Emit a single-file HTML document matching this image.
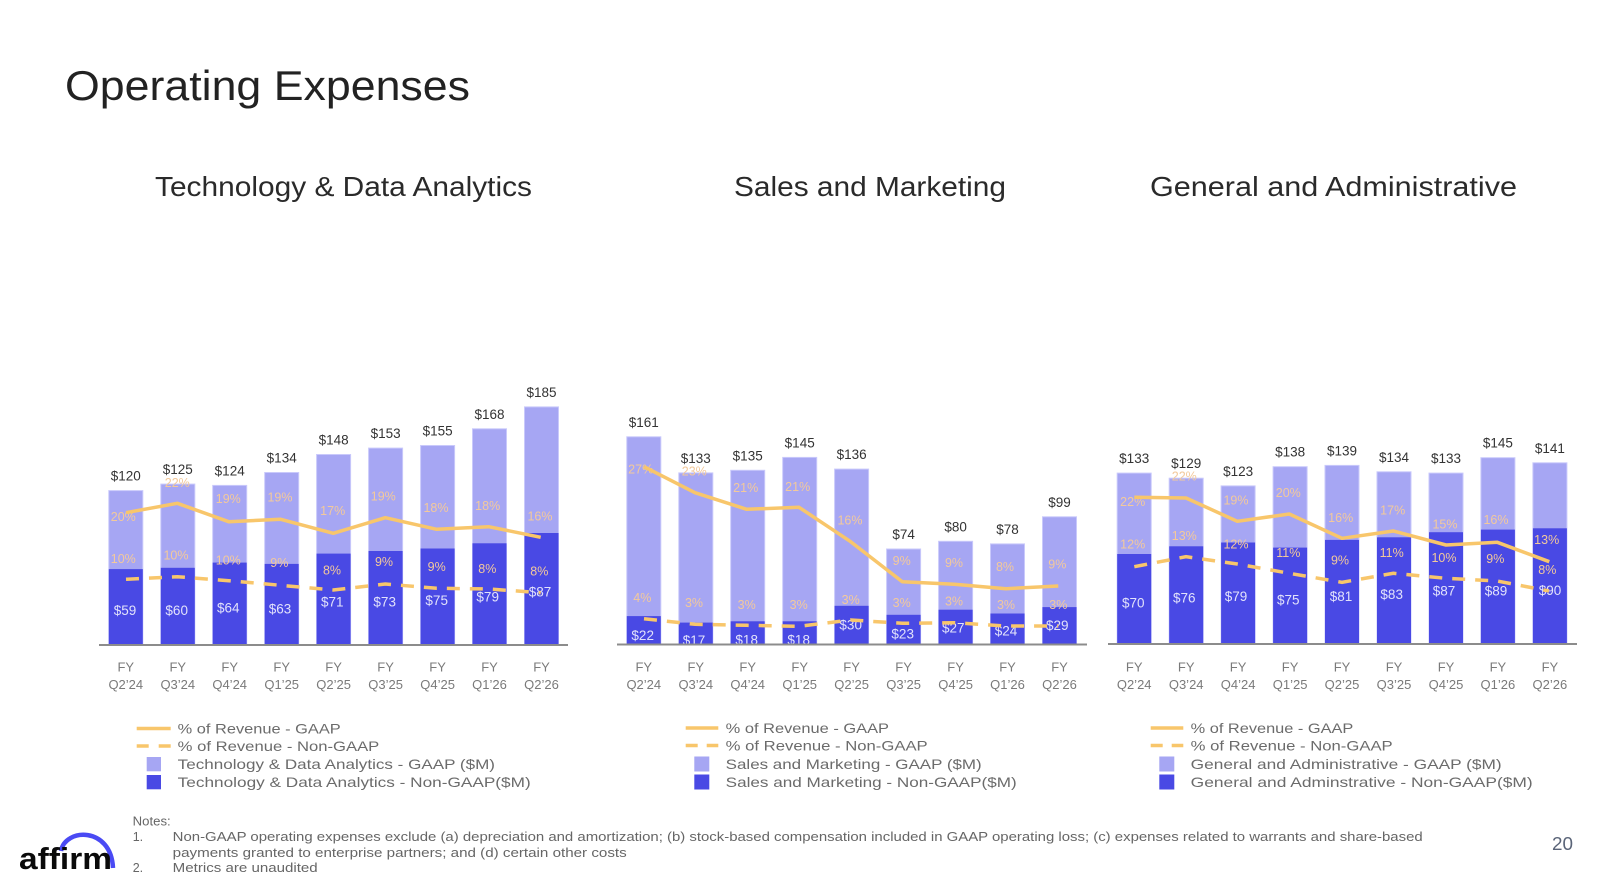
<!DOCTYPE html>
<html><head><meta charset="utf-8"><style>
html,body{margin:0;padding:0;background:#fff;}
svg{display:block;}
text{font-family:"Liberation Sans",sans-serif;}
</style></head><body>
<svg width="1600" height="881" viewBox="0 0 1600 881" xmlns="http://www.w3.org/2000/svg">
<defs>
<clipPath id="c1"><rect x="0" y="0" width="1600" height="644"/></clipPath>
<clipPath id="c2"><rect x="0" y="0" width="1600" height="643.5"/></clipPath>
<clipPath id="c3"><rect x="0" y="0" width="1600" height="643"/></clipPath>
</defs>
<rect width="1600" height="881" fill="#fff"/>

<!-- Titles -->
<text x="65" y="100" font-size="42" fill="#222" textLength="405" lengthAdjust="spacingAndGlyphs">Operating Expenses</text>
<text x="155" y="196" font-size="28" fill="#2a2a2a" textLength="377" lengthAdjust="spacingAndGlyphs">Technology &amp; Data Analytics</text>
<text x="734" y="196" font-size="28" fill="#2a2a2a" textLength="272" lengthAdjust="spacingAndGlyphs">Sales and Marketing</text>
<text x="1150" y="196" font-size="28" fill="#2a2a2a" textLength="367" lengthAdjust="spacingAndGlyphs">General and Administrative</text>

<!-- ===== Chart 1 ===== -->
<g stroke="#c9c9fb" stroke-width="1" fill="#a6a6f3">
<rect x="108.8" y="490.6" width="34" height="154.4"/>
<rect x="160.8" y="484.1" width="34" height="160.9"/>
<rect x="212.7" y="485.4" width="34" height="159.6"/>
<rect x="264.7" y="472.5" width="34" height="172.5"/>
<rect x="316.6" y="454.5" width="34" height="190.5"/>
<rect x="368.6" y="448.1" width="34" height="196.9"/>
<rect x="420.6" y="445.5" width="34" height="199.5"/>
<rect x="472.5" y="428.8" width="34" height="216.2"/>
<rect x="524.5" y="406.9" width="34" height="238.1"/>
</g>
<g fill="#4949e4">
<rect x="108.8" y="569.1" width="34" height="75.9"/>
<rect x="160.8" y="567.8" width="34" height="77.2"/>
<rect x="212.7" y="562.6" width="34" height="82.4"/>
<rect x="264.7" y="563.9" width="34" height="81.1"/>
<rect x="316.6" y="553.6" width="34" height="91.4"/>
<rect x="368.6" y="551.0" width="34" height="94.0"/>
<rect x="420.6" y="548.5" width="34" height="96.5"/>
<rect x="472.5" y="543.3" width="34" height="101.7"/>
<rect x="524.5" y="533.0" width="34" height="112.0"/>
</g>
<line x1="99" y1="645" x2="568" y2="645" stroke="#8c8c8c" stroke-width="2"/>
<g font-size="13.5" fill="#333" text-anchor="middle">
<text x="125.8" y="480.6">$120</text>
<text x="177.8" y="474.1">$125</text>
<text x="229.7" y="475.4">$124</text>
<text x="281.7" y="462.5">$134</text>
<text x="333.6" y="444.5">$148</text>
<text x="385.6" y="438.1">$153</text>
<text x="437.6" y="435.5">$155</text>
<text x="489.5" y="418.8">$168</text>
<text x="541.5" y="396.9">$185</text>
</g>
<g font-size="13.5" fill="#e2e2fb" text-anchor="middle" clip-path="url(#c1)">
<text x="125" y="615">$59</text>
<text x="176.7" y="615">$60</text>
<text x="228.3" y="612.3">$64</text>
<text x="280" y="613.3">$63</text>
<text x="332.3" y="606.7">$71</text>
<text x="384.7" y="606.7">$73</text>
<text x="436.7" y="605">$75</text>
<text x="487.7" y="601.7">$79</text>
<text x="540" y="596.7">$87</text>
</g>
<g font-size="12.5" fill="#f3c99b" text-anchor="middle">
<text x="123.3" y="521.2">20%</text>
<text x="177.3" y="487.2">22%</text>
<text x="228.3" y="502.8">19%</text>
<text x="280" y="501.5">19%</text>
<text x="332.7" y="515.2">17%</text>
<text x="383.3" y="500.5">19%</text>
<text x="436" y="511.8">18%</text>
<text x="487.7" y="509.8">18%</text>
<text x="540" y="520.5">16%</text>
<text x="123.3" y="562.8">10%</text>
<text x="176" y="559.5">10%</text>
<text x="228.3" y="564.5">10%</text>
<text x="279.3" y="567.2">9%</text>
<text x="332" y="574.5">8%</text>
<text x="384" y="566.2">9%</text>
<text x="436.7" y="571.2">9%</text>
<text x="487.3" y="572.8">8%</text>
<text x="539.3" y="575.5">8%</text>
</g>
<polyline fill="none" stroke="#f8c66b" stroke-width="3.5" stroke-linejoin="round" points="126,512.7 177.3,503.3 228.7,521.7 280.7,519.3 333.3,533.3 385.3,517.7 436.7,529.3 488.7,526.7 540.7,537.3"/>
<polyline fill="none" stroke="#f8c66b" stroke-width="3.5" stroke-dasharray="13 10" points="126,579.3 177.3,576.7 228.7,580.7 280.7,585.3 333.3,590 385.3,584 436.7,588.3 488.7,589 540.7,592.7"/>
<g font-size="13" fill="#7a7a7a" text-anchor="middle">
<text x="125.8" y="671.5">FY</text><text x="125.8" y="689">Q2’24</text>
<text x="177.8" y="671.5">FY</text><text x="177.8" y="689">Q3’24</text>
<text x="229.7" y="671.5">FY</text><text x="229.7" y="689">Q4’24</text>
<text x="281.7" y="671.5">FY</text><text x="281.7" y="689">Q1’25</text>
<text x="333.6" y="671.5">FY</text><text x="333.6" y="689">Q2’25</text>
<text x="385.6" y="671.5">FY</text><text x="385.6" y="689">Q3’25</text>
<text x="437.6" y="671.5">FY</text><text x="437.6" y="689">Q4’25</text>
<text x="489.5" y="671.5">FY</text><text x="489.5" y="689">Q1’26</text>
<text x="541.5" y="671.5">FY</text><text x="541.5" y="689">Q2’26</text>
</g>
<!-- legend 1 -->
<line x1="136.7" y1="728.5" x2="170.7" y2="728.5" stroke="#f8c66b" stroke-width="3.5"/>
<line x1="136.7" y1="746" x2="170.7" y2="746" stroke="#f8c66b" stroke-width="3.5" stroke-dasharray="12 10"/>
<rect x="146.7" y="757" width="14.3" height="14.3" fill="#a6a6f3"/>
<rect x="146.7" y="775" width="14.3" height="14.3" fill="#4949e4"/>
<g font-size="14" fill="#6b6b6b">
<text x="177.7" y="733.5" textLength="163" lengthAdjust="spacingAndGlyphs">% of Revenue - GAAP</text>
<text x="177.7" y="751" textLength="201.6" lengthAdjust="spacingAndGlyphs">% of Revenue - Non-GAAP</text>
<text x="177.7" y="769" textLength="317.3" lengthAdjust="spacingAndGlyphs">Technology &amp; Data Analytics - GAAP ($M)</text>
<text x="177.7" y="787" textLength="353" lengthAdjust="spacingAndGlyphs">Technology &amp; Data Analytics - Non-GAAP($M)</text>
</g>

<!-- ===== Chart 2 ===== -->
<g stroke="#c9c9fb" stroke-width="1" fill="#a6a6f3">
<rect x="626.8" y="436.8" width="34" height="207.7"/>
<rect x="678.8" y="472.9" width="34" height="171.6"/>
<rect x="730.7" y="470.3" width="34" height="174.2"/>
<rect x="782.7" y="457.4" width="34" height="187.1"/>
<rect x="834.6" y="469.1" width="34" height="175.4"/>
<rect x="886.6" y="549.0" width="34" height="95.5"/>
<rect x="938.6" y="541.3" width="34" height="103.2"/>
<rect x="990.5" y="543.9" width="34" height="100.6"/>
<rect x="1042.5" y="516.8" width="34" height="127.7"/>
</g>
<g fill="#4949e4">
<rect x="626.8" y="616.1" width="34" height="28.4"/>
<rect x="678.8" y="622.6" width="34" height="21.9"/>
<rect x="730.7" y="621.3" width="34" height="23.2"/>
<rect x="782.7" y="621.3" width="34" height="23.2"/>
<rect x="834.6" y="605.8" width="34" height="38.7"/>
<rect x="886.6" y="614.8" width="34" height="29.7"/>
<rect x="938.6" y="609.7" width="34" height="34.8"/>
<rect x="990.5" y="613.5" width="34" height="31.0"/>
<rect x="1042.5" y="607.1" width="34" height="37.4"/>
</g>
<line x1="617" y1="644.5" x2="1087" y2="644.5" stroke="#8c8c8c" stroke-width="2"/>
<g font-size="13.5" fill="#333" text-anchor="middle">
<text x="643.8" y="426.8">$161</text>
<text x="695.8" y="462.9">$133</text>
<text x="747.7" y="460.3">$135</text>
<text x="799.7" y="447.4">$145</text>
<text x="851.6" y="459.1">$136</text>
<text x="903.6" y="539.0">$74</text>
<text x="955.6" y="531.3">$80</text>
<text x="1007.5" y="533.9">$78</text>
<text x="1059.5" y="506.8">$99</text>
</g>
<g font-size="13.5" fill="#e2e2fb" text-anchor="middle" clip-path="url(#c2)">
<text x="642.7" y="640">$22</text>
<text x="694" y="645">$17</text>
<text x="746.7" y="644.3">$18</text>
<text x="798.7" y="644.3">$18</text>
<text x="850.7" y="629.3">$30</text>
<text x="902.7" y="638.3">$23</text>
<text x="953.3" y="632.7">$27</text>
<text x="1006" y="635.7">$24</text>
<text x="1057.3" y="630">$29</text>
</g>
<g font-size="12.5" fill="#f3c99b" text-anchor="middle">
<text x="640.7" y="473.5">27%</text>
<text x="694.3" y="475.5">23%</text>
<text x="745.7" y="492.2">21%</text>
<text x="797.7" y="491.2">21%</text>
<text x="850" y="524.5">16%</text>
<text x="901.7" y="565.2">9%</text>
<text x="954" y="567.2">9%</text>
<text x="1005" y="571.2">8%</text>
<text x="1057.3" y="568.5">9%</text>
<text x="642.3" y="602.2">4%</text>
<text x="694" y="607.2">3%</text>
<text x="746.7" y="608.8">3%</text>
<text x="798.7" y="608.8">3%</text>
<text x="850.7" y="603.8">3%</text>
<text x="901.7" y="607.2">3%</text>
<text x="954" y="605.5">3%</text>
<text x="1006" y="608.8">3%</text>
<text x="1058.3" y="608.8">3%</text>
</g>
<polyline fill="none" stroke="#f8c66b" stroke-width="3.5" stroke-linejoin="round" points="644,466.7 695,492.7 746.7,509.3 799,507.3 850.7,541.7 902.3,581.7 954.3,584.3 1006,588.7 1058.3,586"/>
<polyline fill="none" stroke="#f8c66b" stroke-width="3.5" stroke-dasharray="13 10" points="644,618.7 695,624.3 746.7,625.3 799,626.3 850.7,620 902.3,623.3 954.3,622.7 1006,626 1058.3,626"/>
<g font-size="13" fill="#7a7a7a" text-anchor="middle">
<text x="643.8" y="671.5">FY</text><text x="643.8" y="689">Q2’24</text>
<text x="695.8" y="671.5">FY</text><text x="695.8" y="689">Q3’24</text>
<text x="747.7" y="671.5">FY</text><text x="747.7" y="689">Q4’24</text>
<text x="799.7" y="671.5">FY</text><text x="799.7" y="689">Q1’25</text>
<text x="851.6" y="671.5">FY</text><text x="851.6" y="689">Q2’25</text>
<text x="903.6" y="671.5">FY</text><text x="903.6" y="689">Q3’25</text>
<text x="955.6" y="671.5">FY</text><text x="955.6" y="689">Q4’25</text>
<text x="1007.5" y="671.5">FY</text><text x="1007.5" y="689">Q1’26</text>
<text x="1059.5" y="671.5">FY</text><text x="1059.5" y="689">Q2’26</text>
</g>
<!-- legend 2 -->
<line x1="685.7" y1="728" x2="718.3" y2="728" stroke="#f8c66b" stroke-width="3.5"/>
<line x1="685.7" y1="745.5" x2="718.3" y2="745.5" stroke="#f8c66b" stroke-width="3.5" stroke-dasharray="12 9"/>
<rect x="694.3" y="756.5" width="15" height="15" fill="#a6a6f3"/>
<rect x="694.3" y="774.5" width="15" height="15" fill="#4949e4"/>
<g font-size="14" fill="#6b6b6b">
<text x="725.7" y="733" textLength="163.3" lengthAdjust="spacingAndGlyphs">% of Revenue - GAAP</text>
<text x="725.7" y="750.5" textLength="202" lengthAdjust="spacingAndGlyphs">% of Revenue - Non-GAAP</text>
<text x="725.7" y="769" textLength="256" lengthAdjust="spacingAndGlyphs">Sales and Marketing - GAAP ($M)</text>
<text x="725.7" y="787" textLength="291" lengthAdjust="spacingAndGlyphs">Sales and Marketing - Non-GAAP($M)</text>
</g>

<!-- ===== Chart 3 ===== -->
<g stroke="#c9c9fb" stroke-width="1" fill="#a6a6f3">
<rect x="1117.2" y="473.1" width="34" height="170.9"/>
<rect x="1169.2" y="478.2" width="34" height="165.8"/>
<rect x="1221.1" y="485.9" width="34" height="158.1"/>
<rect x="1273.1" y="466.7" width="34" height="177.3"/>
<rect x="1325.0" y="465.4" width="34" height="178.6"/>
<rect x="1377.0" y="471.8" width="34" height="172.2"/>
<rect x="1429.0" y="473.1" width="34" height="170.9"/>
<rect x="1480.9" y="457.7" width="34" height="186.3"/>
<rect x="1532.9" y="462.8" width="34" height="181.2"/>
</g>
<g fill="#4949e4">
<rect x="1117.2" y="554.0" width="34" height="90.0"/>
<rect x="1169.2" y="546.3" width="34" height="97.7"/>
<rect x="1221.1" y="542.5" width="34" height="101.5"/>
<rect x="1273.1" y="547.6" width="34" height="96.4"/>
<rect x="1325.0" y="539.9" width="34" height="104.1"/>
<rect x="1377.0" y="537.3" width="34" height="106.7"/>
<rect x="1429.0" y="532.2" width="34" height="111.8"/>
<rect x="1480.9" y="529.6" width="34" height="114.4"/>
<rect x="1532.9" y="528.3" width="34" height="115.7"/>
</g>
<line x1="1108" y1="644" x2="1577" y2="644" stroke="#8c8c8c" stroke-width="2"/>
<g font-size="13.5" fill="#333" text-anchor="middle">
<text x="1134.2" y="463.1">$133</text>
<text x="1186.2" y="468.2">$129</text>
<text x="1238.1" y="475.9">$123</text>
<text x="1290.1" y="456.7">$138</text>
<text x="1342.0" y="455.4">$139</text>
<text x="1394.0" y="461.8">$134</text>
<text x="1446.0" y="463.1">$133</text>
<text x="1497.9" y="447.7">$145</text>
<text x="1549.9" y="452.8">$141</text>
</g>
<g font-size="13.5" fill="#e2e2fb" text-anchor="middle" clip-path="url(#c3)">
<text x="1133.3" y="607.7">$70</text>
<text x="1184.3" y="602.7">$76</text>
<text x="1236" y="601">$79</text>
<text x="1288.3" y="604.3">$75</text>
<text x="1341" y="601">$81</text>
<text x="1391.7" y="599">$83</text>
<text x="1444" y="595.7">$87</text>
<text x="1496" y="595.7">$89</text>
<text x="1550" y="595">$90</text>
</g>
<g font-size="12.5" fill="#f3c99b" text-anchor="middle">
<text x="1132.7" y="506.2">22%</text>
<text x="1184.3" y="480.5">22%</text>
<text x="1236" y="504.5">19%</text>
<text x="1288.3" y="497.2">20%</text>
<text x="1340.7" y="521.8">16%</text>
<text x="1392.7" y="514.5">17%</text>
<text x="1445" y="528.5">15%</text>
<text x="1496" y="523.8">16%</text>
<text x="1546.7" y="543.8">13%</text>
<text x="1132.7" y="548.5">12%</text>
<text x="1184.3" y="540.2">13%</text>
<text x="1236" y="548.5">12%</text>
<text x="1288.3" y="556.8">11%</text>
<text x="1340" y="564.5">9%</text>
<text x="1391.7" y="556.8">11%</text>
<text x="1444" y="561.8">10%</text>
<text x="1495.3" y="562.8">9%</text>
<text x="1547.3" y="573.8">8%</text>
</g>
<polyline fill="none" stroke="#f8c66b" stroke-width="3.5" stroke-linejoin="round" points="1134.3,497.3 1186,498 1237.3,521.3 1289.3,514 1342,538.3 1393.3,531 1446,545 1497.3,542.3 1549.3,561.7"/>
<polyline fill="none" stroke="#f8c66b" stroke-width="3.5" stroke-dasharray="13 10" points="1134.3,566.7 1186,556.7 1237.3,564 1289.3,573.3 1342,582.3 1393.3,573.3 1446,578.3 1497.3,581 1549,591"/>
<g font-size="13" fill="#7a7a7a" text-anchor="middle">
<text x="1134.2" y="671.5">FY</text><text x="1134.2" y="689">Q2’24</text>
<text x="1186.2" y="671.5">FY</text><text x="1186.2" y="689">Q3’24</text>
<text x="1238.1" y="671.5">FY</text><text x="1238.1" y="689">Q4’24</text>
<text x="1290.1" y="671.5">FY</text><text x="1290.1" y="689">Q1’25</text>
<text x="1342.0" y="671.5">FY</text><text x="1342.0" y="689">Q2’25</text>
<text x="1394.0" y="671.5">FY</text><text x="1394.0" y="689">Q3’25</text>
<text x="1446.0" y="671.5">FY</text><text x="1446.0" y="689">Q4’25</text>
<text x="1497.9" y="671.5">FY</text><text x="1497.9" y="689">Q1’26</text>
<text x="1549.9" y="671.5">FY</text><text x="1549.9" y="689">Q2’26</text>
</g>
<!-- legend 3 -->
<line x1="1150.7" y1="728" x2="1183.3" y2="728" stroke="#f8c66b" stroke-width="3.5"/>
<line x1="1150.7" y1="745.5" x2="1183.3" y2="745.5" stroke="#f8c66b" stroke-width="3.5" stroke-dasharray="12 9"/>
<rect x="1159.3" y="756.5" width="15" height="15" fill="#a6a6f3"/>
<rect x="1159.3" y="774.5" width="15" height="15" fill="#4949e4"/>
<g font-size="14" fill="#6b6b6b">
<text x="1190.7" y="733" textLength="162.6" lengthAdjust="spacingAndGlyphs">% of Revenue - GAAP</text>
<text x="1190.7" y="750.5" textLength="202" lengthAdjust="spacingAndGlyphs">% of Revenue - Non-GAAP</text>
<text x="1190.7" y="769" textLength="311" lengthAdjust="spacingAndGlyphs">General and Administrative - GAAP ($M)</text>
<text x="1190.7" y="787" textLength="342" lengthAdjust="spacingAndGlyphs">General and Adminstrative - Non-GAAP($M)</text>
</g>

<!-- Notes -->
<g font-size="12.5" fill="#666">
<text x="132.7" y="825.5" textLength="38" lengthAdjust="spacingAndGlyphs">Notes:</text>
<text x="132.7" y="841">1.</text>
<text x="172.7" y="841" textLength="1250" lengthAdjust="spacingAndGlyphs">Non-GAAP operating expenses exclude (a) depreciation and amortization; (b) stock-based compensation included in GAAP operating loss; (c) expenses related to warrants and share-based</text>
<text x="172.7" y="857" textLength="454" lengthAdjust="spacingAndGlyphs">payments granted to enterprise partners; and (d) certain other costs</text>
<text x="132.7" y="872">2.</text>
<text x="172.7" y="872" textLength="145" lengthAdjust="spacingAndGlyphs">Metrics are unaudited</text>
</g>

<!-- Logo -->
<path d="M 61 851 C 65 828, 111 826, 113 868" fill="none" stroke="#4a4af4" stroke-width="4.5"/>
<text x="19" y="869" font-size="31" font-weight="bold" fill="#0a0a0a" textLength="93" lengthAdjust="spacingAndGlyphs">affirm</text>

<!-- Page number -->
<text x="1552" y="850" font-size="18.5" fill="#5a6478" textLength="21" lengthAdjust="spacingAndGlyphs">20</text>
</svg>
</body></html>
